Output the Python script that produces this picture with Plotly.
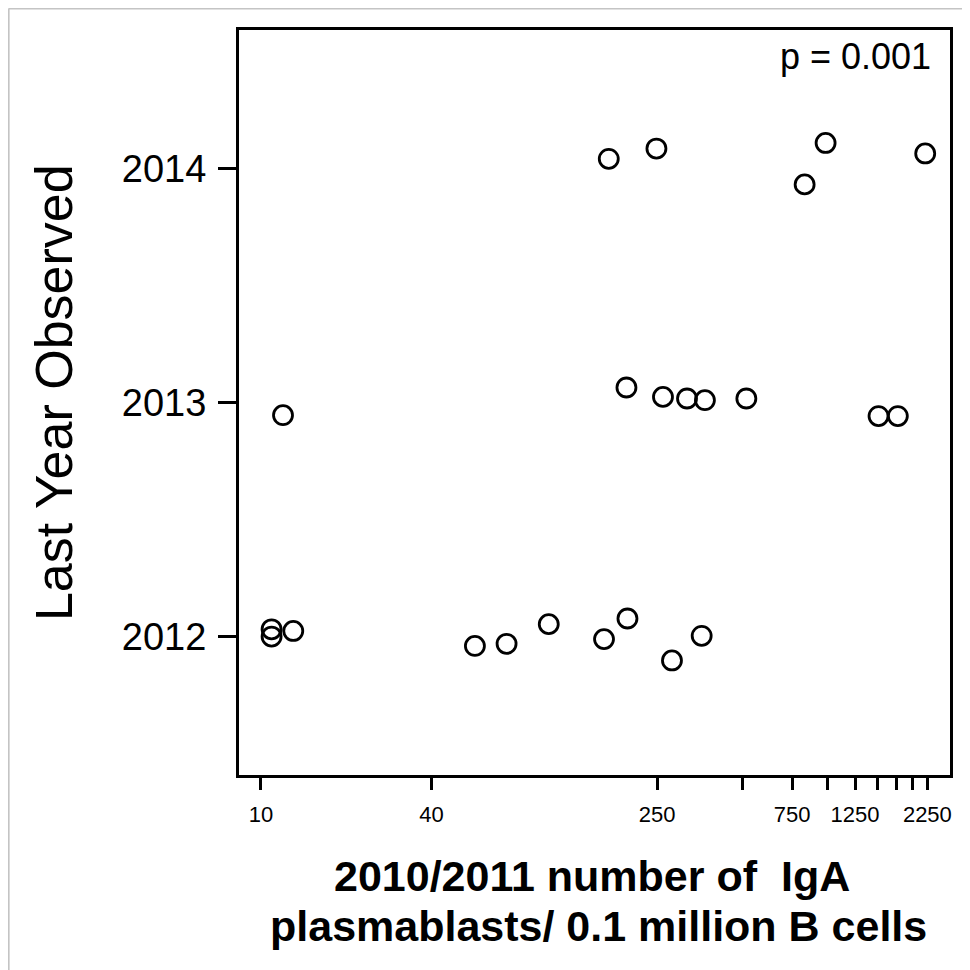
import plotly.graph_objects as go

# ---- data ----
plasmablasts_2012 = [10.9, 10.9, 13.0, 56.9, 73.6, 103.7, 162.5, 196.6, 282.3, 359.4]
year_2012 = [2012.032, 2012.001, 2012.025, 2011.961, 2011.970, 2012.054, 2011.990, 2012.078, 2011.899, 2012.004]

plasmablasts_2013 = [11.96, 195.0, 262.4, 319.0, 369.0, 516.7, 1513.0, 1770.0]
year_2013 = [2012.946, 2013.064, 2013.024, 2013.017, 2013.010, 2013.017, 2012.942, 2012.942]

plasmablasts_2014 = [168.9, 248.8, 829.8, 984.0, 2211.0]
year_2014 = [2014.040, 2014.084, 2013.931, 2014.108, 2014.063]

x_tick_values = [10, 40, 250, 500, 750, 1000, 1250, 1500, 1750, 2000, 2250]
x_tick_labels = ["10", "40", "250", "", "750", "", "1250", "", "", "", "2250"]
y_tick_values = [2012, 2013, 2014]
y_tick_labels = ["2012", "2013", "2014"]

p_value_text = "p = 0.001"
x_title_line1 = "2010/2011 number of \u00a0IgA"
x_title_line2 = "plasmablasts/ 0.1 million B cells"
y_title = "Last Year Observed"

xs = plasmablasts_2012 + plasmablasts_2013 + plasmablasts_2014
ys = year_2012 + year_2013 + year_2014

FONT = "Liberation Sans, Arial, sans-serif"

fig = go.Figure()
fig.add_trace(go.Scatter(
    x=xs, y=ys, mode="markers",
    marker=dict(symbol="circle-open", size=19, color="black",
                line=dict(width=2.8, color="black")),
    showlegend=False,
    hovertemplate="%{x}<br>%{y}<extra></extra>",
))

fig.update_layout(
    width=970, height=970,
    margin=dict(l=231, r=28, t=22, b=203),
    paper_bgcolor="white", plot_bgcolor="white",
    font=dict(family=FONT, color="black"),
    xaxis=dict(
        type="log", range=[0.9224, 3.4321],
        tickmode="array", tickvals=x_tick_values, ticktext=x_tick_labels,
        ticks="outside", ticklen=12, tickwidth=3, tickcolor="black",
        tickfont=dict(size=22, family=FONT, color="black"),
        ticklabelstandoff=6,
        showline=True, linewidth=3, linecolor="black", mirror=True,
        showgrid=False, zeroline=False,
    ),
    yaxis=dict(
        range=[2011.41, 2014.59],
        tickmode="array", tickvals=y_tick_values, ticktext=y_tick_labels,
        ticks="outside", ticklen=18, tickwidth=3, tickcolor="black",
        tickfont=dict(size=38, family=FONT, color="black"),
        ticklabelstandoff=4,
        showline=True, linewidth=3, linecolor="black", mirror=True,
        showgrid=False, zeroline=False,
    ),
    annotations=[
        dict(text=p_value_text, xref="x domain", yref="y domain",
             x=0.9754, y=0.9647, xanchor="right", yanchor="middle",
             showarrow=False, font=dict(size=36, family=FONT, color="black")),
        dict(text=x_title_line1, xref="paper", yref="paper",
             x=0.496, y=-0.1356, xanchor="center", yanchor="middle",
             showarrow=False,
             font=dict(size=43, family=FONT, color="black", weight="bold")),
        dict(text=x_title_line2, xref="paper", yref="paper",
             x=0.506, y=-0.2027, xanchor="center", yanchor="middle",
             showarrow=False,
             font=dict(size=43, family=FONT, color="black", weight="bold")),
        dict(text=y_title, xref="paper", yref="paper",
             x=-0.2600, y=0.5128, xanchor="center", yanchor="middle",
             textangle=-90, showarrow=False,
             font=dict(size=52, family=FONT, color="black")),
    ],
    shapes=[
        dict(type="line", xref="paper", yref="paper", x0=-0.324, x1=1.05,
             y0=1.0289, y1=1.0289, line=dict(color="#c4c4c4", width=2)),
        dict(type="line", xref="paper", yref="paper", x0=-0.324, x1=-0.324,
             y0=1.0289, y1=-0.28, line=dict(color="#c4c4c4", width=2)),
    ],
)

fig.write_html("out.html")
